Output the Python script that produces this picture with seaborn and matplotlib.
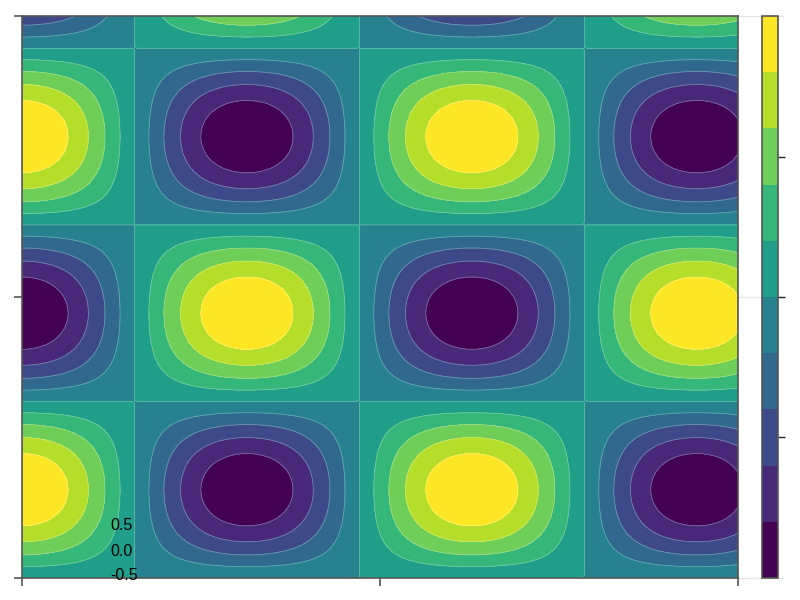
import numpy as np
import matplotlib
matplotlib.use("Agg")
import matplotlib.pyplot as plt
import seaborn as sns

# grid of the surface
x_vals = np.linspace(0, 10, 200)
y_vals = np.linspace(0, 10, 200)
levels = np.linspace(-1, 1, 11)
axis_ticks = [0, 5, 10]
cbar_ticks = [0.5, 0.0, -0.5]

X, Y = np.meshgrid(x_vals, y_vals)
Z = np.cos(X) * np.sin(Y)

sns.set_theme(style="whitegrid")
plt.rcParams['font.family'] = ['Liberation Sans', 'DejaVu Sans']

fig = plt.figure(figsize=(8, 6), dpi=100)
ax = fig.add_axes([0.0275, 0.0367, 0.895, 0.9366])
cax = fig.add_axes([0.9525, 0.0367, 0.02, 0.9366])

cmap = plt.get_cmap("viridis", 10)
cs = ax.contourf(X, Y, Z, levels=levels, cmap=cmap)
# thin light seams between the bands
ax.contour(X, Y, Z, levels=levels[1:-1], colors="white", linewidths=0.6,
           alpha=0.3, linestyles="solid")

ax.set_xlim(0, 10)
ax.set_ylim(0, 10)
ax.set_xticks(axis_ticks)
ax.set_yticks(axis_ticks)
ax.set_xticklabels([])
ax.set_yticklabels([])
for s in ax.spines.values():
    s.set_visible(True)
    s.set_color("#555555")
    s.set_linewidth(1.2)
ax.tick_params(axis="both", direction="out", length=6, width=1.2, color="#555555",
               bottom=True, left=True)

# faint grid lines running into the gap next to the colorbar
for v in axis_ticks:
    ax.plot([1.0, 1.063], [v / 10, v / 10], transform=ax.transAxes,
            color="#e6e6e6", lw=1, clip_on=False, zorder=0)

cb = fig.colorbar(cs, cax=cax, ticks=cbar_ticks)
cb.outline.set_edgecolor("#555555")
cb.outline.set_linewidth(1.2)
cax.tick_params(axis="y", direction="out", length=5, width=1, color="#222222",
                right=True, labelright=False)
cax.grid(False)

# tick labels of the colorbar ended up near the bottom left
for i, t in enumerate(cbar_ticks):
    fig.text(110 / 800, 1 - (526 + 25 * i) / 600, f"{t:.1f}", fontsize=11.5,
             ha="left", va="center", color="black")

fig.savefig("out.png", dpi=100)
